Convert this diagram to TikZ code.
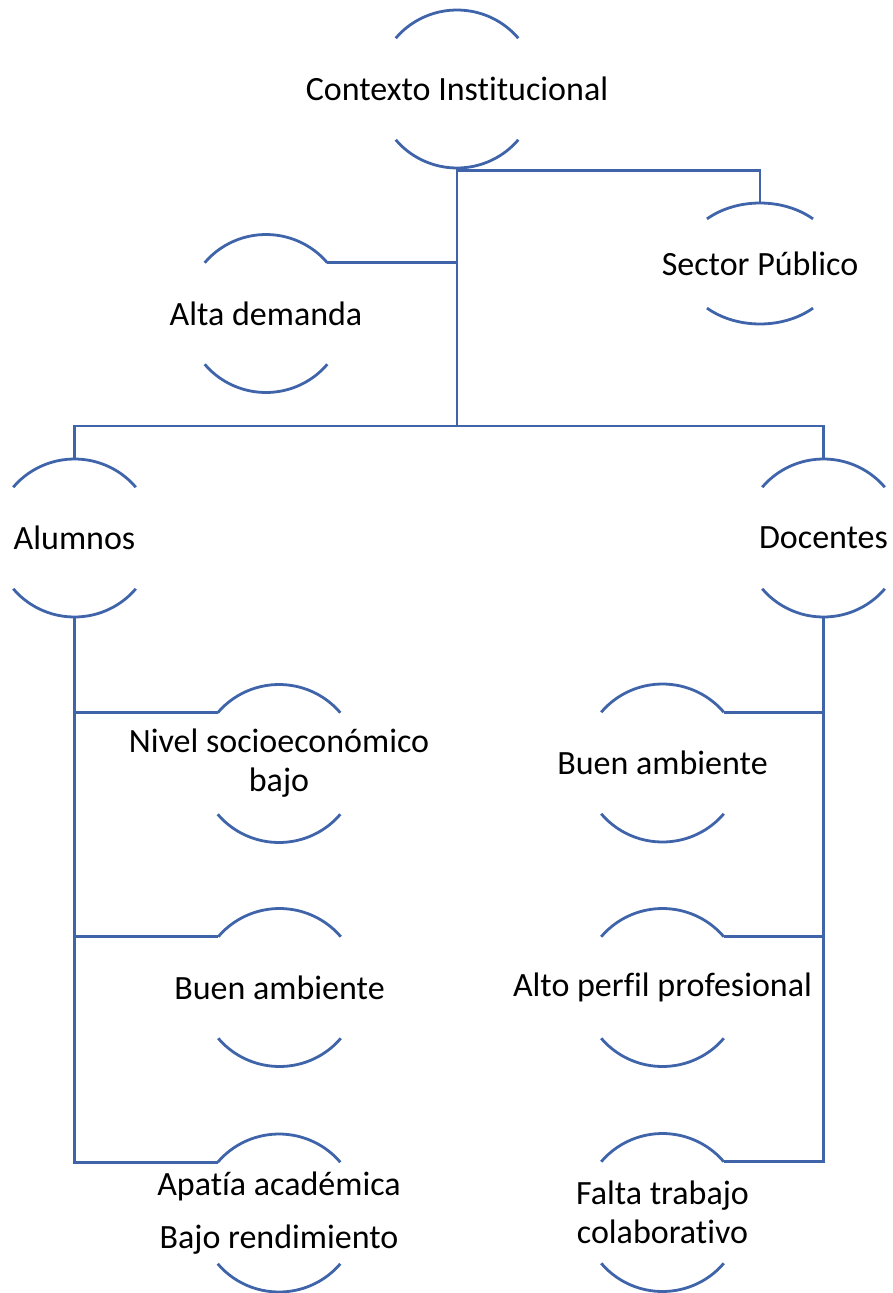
\documentclass[tikz,border=0pt]{standalone}
\usepackage{fontspec}
\setmainfont{Carlito}[Ligatures=NoCommon]
\definecolor{linec}{HTML}{3F64AA}
\tikzset{
  lbl/.style={inner sep=0pt, align=center, font=\fontsize{34}{39}\selectfont, text=black},
  arcline/.style={draw=linec, line width=2.8pt},
  conn/.style={draw=linec, line width=2.8pt}
}
% name, x, y, rx, ry, angle, text
\newcommand{\arcnode}[7]{%
  \node[lbl] (#1) at (#2,#3) {#7};
  \path (#1.center) ++(180-#6:#4 and #5) coordinate (#1-tl)
        (#1.center) ++(#6:#4 and #5) coordinate (#1-tr)
        (#1.center) ++(0,#5) coordinate (#1-t)
        (#1.center) ++(0,-#5) coordinate (#1-b);
  \draw[arcline] (#1-tl) arc[start angle=180-#6, end angle=#6, x radius=#4, y radius=#5];
  \draw[arcline] (#1.center) ++(180+#6:#4 and #5) arc[start angle=180+#6, end angle=360-#6, x radius=#4, y radius=#5];
}
\begin{document}
\begin{tikzpicture}[x=1pt,y=1pt]
\useasboundingbox (0,0) rectangle (893,-1293);
\arcnode{ctx}{457}{-89}{80}{79}{40}{Contexto Institucional}
\arcnode{ad}{266}{-313.5}{80}{79}{40}{Alta demanda}
\arcnode{sp}{760}{-263.5}{78.5}{60.5}{47.5}{Sector Público}
\arcnode{alu}{74.5}{-538}{80}{79}{40}{Alumnos}
\arcnode{doc}{823.5}{-538}{80}{79}{40}{Docentes}
\arcnode{niv}{279}{-763.5}{80}{79}{40}{Nivel socioeconómico\\bajo}
\arcnode{bad}{662.5}{-763}{80}{79}{40}{Buen ambiente}
\arcnode{baa}{279.5}{-987.5}{80}{79}{40}{Buen ambiente}
\arcnode{apf}{662.5}{-987.5}{80}{79}{40}{Alto perfil profesional}
\arcnode{apa}{279}{-1213}{80}{79}{40}{Apatía académica\\[14pt]Bajo rendimiento}
\arcnode{ftc}{662.5}{-1212.5}{80}{79}{40}{Falta trabajo\\colaborativo}
\coordinate (bus) at (457,-426);
\coordinate (j1) at (457,-170.5);
\draw[conn] (ctx-b) -- (bus);
\draw[conn] (j1) -| (sp-t);
\draw[conn] (ad-tr) -- (ad-tr -| bus);
\draw[conn] (alu-t) |- (bus) -| (doc-t);
\draw[conn] (alu-b) |- (apa-tl);
\draw[conn] (niv-tl) -- (niv-tl -| alu-b);
\draw[conn] (baa-tl) -- (baa-tl -| alu-b);
\draw[conn] (doc-b) |- (ftc-tr);
\draw[conn] (bad-tr) -- (bad-tr -| doc-b);
\draw[conn] (apf-tr) -- (apf-tr -| doc-b);
\end{tikzpicture}
\end{document}
